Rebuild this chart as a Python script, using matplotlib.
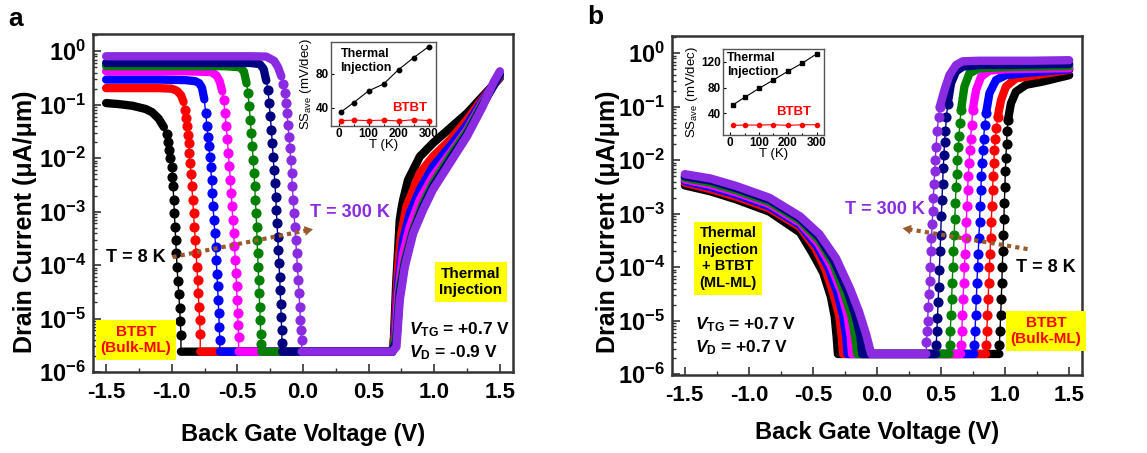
import numpy as np
import matplotlib
matplotlib.use('Agg')
import matplotlib.pyplot as plt
from matplotlib.ticker import MultipleLocator, LogLocator, NullFormatter, FormatStrFormatter

plt.rcParams['font.family'] = ['Liberation Sans', 'DejaVu Sans']
plt.rcParams['font.weight'] = 'bold'
plt.rcParams['axes.unicode_minus'] = False
plt.rcParams['mathtext.fontset'] = 'custom'
plt.rcParams['mathtext.rm'] = 'Liberation Sans:bold'
plt.rcParams['mathtext.it'] = 'Liberation Sans:italic:bold'
plt.rcParams['mathtext.bf'] = 'Liberation Sans:bold'

# temperatures 8 K ... 300 K, one curve each
temps = [8, 50, 100, 150, 200, 250, 300]
colors = ['#000000', '#ff0000', '#0000ff', '#ff00ff', '#008000', '#000080', '#8a2be2']

# ---- panel a (V_D = -0.9 V), log10 of drain current ----
# on-state plateau (band)
a_on_v = [
    [-1.5, -1.4, -1.3, -1.2, -1.15, -1.1, -1.06],
    [-1.5, -1.3, -1.1, -1.0, -0.96, -0.93, -0.91],
    [-1.5, -1.3, -1.1, -0.9, -0.82, -0.79, -0.77, -0.752],
    [-1.5, -1.3, -1.1, -0.9, -0.7, -0.66, -0.635, -0.615],
    [-1.5, -1.2, -0.9, -0.6, -0.48, -0.45, -0.43],
    [-1.5, -1.2, -0.9, -0.6, -0.4, -0.33, -0.3, -0.28],
    [-1.5, -1.2, -0.9, -0.6, -0.4, -0.28, -0.22, -0.19, -0.165],
]
a_on_log = [
    [-0.97, -0.99, -1.02, -1.08, -1.14, -1.26, -1.42],
    [-0.69, -0.69, -0.69, -0.7, -0.74, -0.82, -0.95],
    [-0.53, -0.53, -0.53, -0.54, -0.56, -0.6, -0.68, -0.9],
    [-0.375, -0.375, -0.375, -0.375, -0.39, -0.45, -0.56, -0.75],
    [-0.28, -0.28, -0.28, -0.28, -0.3, -0.38, -0.6],
    [-0.22, -0.22, -0.22, -0.22, -0.22, -0.24, -0.33, -0.55],
    [-0.094, -0.094, -0.094, -0.094, -0.094, -0.1, -0.18, -0.3, -0.47],
]
# steep BTBT turn-off (dots)
a_drop_v = [
    [-1.04, -1.03, -1.02, -1.01, -1.0, -0.995, -0.99, -0.985, -0.98, -0.975, -0.97, -0.965, -0.96, -0.953, -0.946, -0.94, -0.935, -0.93],
    [-0.9, -0.893, -0.885, -0.878, -0.872, -0.865, -0.859, -0.853, -0.847, -0.84, -0.834, -0.828, -0.821, -0.815, -0.808, -0.803, -0.798, -0.793, -0.788, -0.783],
    [-0.742, -0.732, -0.725, -0.717, -0.71, -0.704, -0.697, -0.691, -0.685, -0.679, -0.672, -0.666, -0.661, -0.656, -0.651, -0.646, -0.642, -0.638, -0.634],
    [-0.605, -0.595, -0.585, -0.577, -0.569, -0.562, -0.554, -0.548, -0.541, -0.535, -0.529, -0.522, -0.516, -0.511, -0.506, -0.502, -0.498, -0.494, -0.491],
    [-0.419, -0.41, -0.402, -0.394, -0.386, -0.38, -0.374, -0.368, -0.363, -0.358, -0.353, -0.35, -0.346, -0.342, -0.338, -0.334, -0.33, -0.326, -0.322, -0.318],
    [-0.267, -0.258, -0.249, -0.241, -0.234, -0.227, -0.221, -0.214, -0.208, -0.203, -0.198, -0.193, -0.188, -0.183, -0.178, -0.174, -0.17, -0.166, -0.163, -0.159],
    [-0.152, -0.14, -0.131, -0.122, -0.115, -0.107, -0.1, -0.094, -0.087, -0.081, -0.075, -0.069, -0.062, -0.056, -0.049, -0.043, -0.036, -0.03, -0.025, -0.02, -0.015, -0.01],
]
a_drop_log = [
    [-1.55, -1.7, -1.85, -2.0, -2.17, -2.35, -2.53, -2.78, -3.03, -3.28, -3.53, -3.78, -4.03, -4.3, -4.55, -4.8, -5.05, -5.3],
    [-1.09, -1.25, -1.4, -1.56, -1.72, -1.91, -2.1, -2.3, -2.53, -2.78, -3.03, -3.28, -3.53, -3.78, -4.03, -4.28, -4.53, -4.78, -5.03, -5.28],
    [-1.15, -1.4, -1.6, -1.78, -1.97, -2.16, -2.4, -2.66, -2.9, -3.16, -3.4, -3.66, -3.9, -4.16, -4.4, -4.66, -4.9, -5.16, -5.4],
    [-0.91, -1.15, -1.4, -1.65, -1.9, -2.15, -2.4, -2.65, -2.9, -3.15, -3.4, -3.65, -3.9, -4.15, -4.4, -4.65, -4.9, -5.12, -5.34],
    [-0.78, -1.03, -1.28, -1.53, -1.78, -2.03, -2.28, -2.53, -2.78, -3.03, -3.28, -3.53, -3.78, -4.03, -4.28, -4.53, -4.78, -5.03, -5.28, -5.47],
    [-0.72, -0.97, -1.22, -1.47, -1.72, -1.97, -2.22, -2.47, -2.72, -2.97, -3.22, -3.47, -3.72, -3.97, -4.22, -4.47, -4.72, -4.97, -5.22, -5.45],
    [-0.62, -0.78, -0.97, -1.16, -1.38, -1.6, -1.81, -2.03, -2.28, -2.53, -2.78, -3.03, -3.28, -3.53, -3.78, -4.03, -4.28, -4.53, -4.78, -5.03, -5.22, -5.4],
]
# off-state floor and thermal-injection branch (band)
a_off_v = [
    [-0.93, 0.68, 0.69, 0.71, 0.725, 0.737, 0.75, 0.763, 0.8, 0.89, 0.99, 1.12, 1.25, 1.37, 1.5],
    [-0.783, 0.68, 0.699, 0.712, 0.725, 0.74, 0.75, 0.788, 0.89, 0.99, 1.12, 1.25, 1.37, 1.5],
    [-0.634, 0.68, 0.699, 0.725, 0.763, 0.814, 0.89, 0.99, 1.12, 1.25, 1.37, 1.5],
    [-0.491, 0.68, 0.699, 0.725, 0.763, 0.814, 0.89, 0.99, 1.12, 1.25, 1.37, 1.5],
    [-0.318, 0.68, 0.712, 0.737, 0.776, 0.839, 0.915, 0.99, 1.12, 1.25, 1.37, 1.5],
    [-0.159, 0.68, 0.712, 0.737, 0.776, 0.839, 0.915, 0.99, 1.12, 1.25, 1.37, 1.5],
    [-0.01, 0.68, 0.712, 0.737, 0.776, 0.839, 0.915, 0.99, 1.12, 1.25, 1.37, 1.45, 1.5],
]
a_off_log = [
    [-5.62, -5.62, -5.53, -4.34, -3.7, -3.16, -2.95, -2.78, -2.41, -1.97, -1.72, -1.44, -1.16, -0.84, -0.5],
    [-5.62, -5.62, -5.28, -4.6, -4.03, -3.6, -3.4, -2.91, -2.28, -1.97, -1.66, -1.28, -0.88, -0.49],
    [-5.62, -5.62, -5.41, -4.34, -3.53, -3.03, -2.59, -2.16, -1.78, -1.375, -0.91, -0.47],
    [-5.62, -5.62, -5.53, -4.53, -3.78, -3.28, -2.78, -2.34, -1.91, -1.47, -0.94, -0.46],
    [-5.62, -5.62, -5.28, -4.41, -3.91, -3.34, -2.84, -2.47, -1.97, -1.5, -0.97, -0.45],
    [-5.62, -5.62, -5.41, -4.53, -3.97, -3.375, -2.91, -2.53, -2.03, -1.55, -1.0, -0.43],
    [-5.62, -5.62, -5.53, -4.66, -4.03, -3.41, -2.97, -2.59, -2.09, -1.59, -1.03, -0.59, -0.375],
]

# ---- panel b (V_D = +0.7 V) ----
# left branch + floor (band)
b_left_v = [
    [-1.5, -1.3, -1.1, -0.84, -0.6, -0.5, -0.42, -0.36, -0.33, -0.315, -0.305, 0.955],
    [-1.5, -1.3, -1.1, -0.84, -0.6, -0.48, -0.4, -0.34, -0.295, -0.275, -0.265, 0.852],
    [-1.5, -1.3, -1.1, -0.84, -0.6, -0.47, -0.38, -0.31, -0.265, -0.24, -0.23, 0.76],
    [-1.5, -1.3, -1.1, -0.84, -0.6, -0.46, -0.36, -0.28, -0.23, -0.205, -0.195, 0.657],
    [-1.5, -1.3, -1.1, -0.84, -0.6, -0.45, -0.34, -0.26, -0.2, -0.17, -0.155, 0.567],
    [-1.5, -1.3, -1.1, -0.84, -0.6, -0.45, -0.33, -0.23, -0.17, -0.13, -0.115, 0.462],
    [-1.5, -1.3, -1.1, -0.84, -0.6, -0.45, -0.32, -0.21, -0.14, -0.085, -0.045, 0.385],
]
b_left_log = [
    [-2.47, -2.58, -2.73, -2.96, -3.35, -3.75, -4.1, -4.55, -4.92, -5.3, -5.62, -5.62],
    [-2.42, -2.54, -2.68, -2.9, -3.25, -3.65, -4.05, -4.5, -4.9, -5.3, -5.62, -5.62],
    [-2.39, -2.5, -2.64, -2.86, -3.21, -3.6, -4.0, -4.47, -4.9, -5.3, -5.62, -5.62],
    [-2.36, -2.46, -2.6, -2.82, -3.17, -3.55, -3.97, -4.45, -4.9, -5.3, -5.62, -5.62],
    [-2.33, -2.42, -2.56, -2.78, -3.13, -3.5, -3.94, -4.45, -4.9, -5.3, -5.62, -5.62],
    [-2.3, -2.38, -2.52, -2.74, -3.09, -3.44, -3.9, -4.45, -4.88, -5.28, -5.62, -5.62],
    [-2.26, -2.34, -2.48, -2.7, -3.05, -3.38, -3.83, -4.4, -4.83, -5.25, -5.62, -5.62],
]
# steep BTBT turn-on (dots)
b_rise_v = [
    [0.955, 0.96, 0.965, 0.97, 0.974, 0.978, 0.982, 0.986, 0.99, 0.994, 0.998, 1.002, 1.006, 1.011, 1.016, 1.022],
    [0.852, 0.857, 0.862, 0.867, 0.872, 0.877, 0.882, 0.887, 0.892, 0.897, 0.902, 0.907, 0.912, 0.917, 0.923, 0.932, 0.942],
    [0.76, 0.765, 0.77, 0.775, 0.78, 0.785, 0.79, 0.795, 0.8, 0.805, 0.81, 0.815, 0.82, 0.826, 0.832, 0.84, 0.851],
    [0.657, 0.662, 0.667, 0.672, 0.677, 0.682, 0.687, 0.692, 0.697, 0.702, 0.707, 0.712, 0.718, 0.724, 0.73, 0.738, 0.747],
    [0.567, 0.572, 0.577, 0.582, 0.587, 0.592, 0.597, 0.602, 0.607, 0.612, 0.617, 0.622, 0.628, 0.634, 0.64, 0.647, 0.656],
    [0.462, 0.467, 0.472, 0.477, 0.482, 0.487, 0.492, 0.497, 0.502, 0.507, 0.512, 0.517, 0.522, 0.527, 0.534, 0.542, 0.552],
    [0.385, 0.39, 0.395, 0.4, 0.405, 0.41, 0.415, 0.42, 0.425, 0.43, 0.435, 0.44, 0.445, 0.45, 0.455, 0.46, 0.47, 0.48, 0.49],
]
b_rise_log = [
    [-5.45, -5.2, -4.9, -4.6, -4.3, -4.0, -3.7, -3.4, -3.1, -2.8, -2.5, -2.2, -1.95, -1.69, -1.45, -1.25],
    [-5.45, -5.2, -4.9, -4.6, -4.3, -4.0, -3.75, -3.45, -3.15, -2.85, -2.55, -2.3, -2.05, -1.8, -1.6, -1.4, -1.19],
    [-5.45, -5.2, -4.9, -4.6, -4.3, -4.0, -3.75, -3.45, -3.15, -2.85, -2.55, -2.3, -2.05, -1.8, -1.6, -1.35, -1.125],
    [-5.45, -5.2, -4.9, -4.6, -4.3, -4.0, -3.75, -3.45, -3.15, -2.85, -2.55, -2.3, -2.05, -1.8, -1.6, -1.35, -1.06],
    [-5.45, -5.2, -4.9, -4.6, -4.3, -4.0, -3.7, -3.4, -3.1, -2.8, -2.5, -2.25, -2.0, -1.75, -1.55, -1.3, -1.06],
    [-5.45, -5.2, -4.95, -4.65, -4.375, -4.05, -3.7, -3.4, -3.05, -2.75, -2.45, -2.15, -1.9, -1.65, -1.45, -1.2, -0.94],
    [-5.4, -5.2, -5.0, -4.75, -4.5, -4.25, -4.0, -3.7, -3.45, -3.2, -2.95, -2.7, -2.45, -2.2, -2.0, -1.75, -1.45, -1.2, -1.0],
]
# on-state plateau (band)
b_top_v = [
    [1.022, 1.045, 1.084, 1.162, 1.292, 1.5],
    [0.942, 0.968, 1.006, 1.084, 1.24, 1.5],
    [0.851, 0.877, 0.929, 1.006, 1.2, 1.5],
    [0.747, 0.773, 0.812, 0.877, 1.0, 1.2, 1.5],
    [0.656, 0.682, 0.721, 0.8, 1.0, 1.2, 1.5],
    [0.552, 0.578, 0.617, 0.669, 0.8, 1.0, 1.2, 1.5],
    [0.49, 0.526, 0.565, 0.617, 0.67, 0.8, 1.0, 1.2, 1.5],
]
b_top_log = [
    [-1.25, -0.94, -0.72, -0.59, -0.53, -0.41],
    [-1.19, -0.875, -0.625, -0.47, -0.41, -0.31],
    [-1.125, -0.75, -0.5, -0.41, -0.36, -0.3],
    [-1.06, -0.69, -0.44, -0.325, -0.3, -0.29, -0.28],
    [-1.06, -0.625, -0.375, -0.28, -0.26, -0.25, -0.24],
    [-0.94, -0.56, -0.34, -0.25, -0.22, -0.22, -0.21, -0.2],
    [-1.0, -0.69, -0.41, -0.22, -0.15, -0.14, -0.14, -0.14, -0.13],
]

# ---- insets: average subthreshold swing vs temperature ----
ins_t = [8, 50, 100, 150, 200, 250, 300]
ss_thermal_a = [35, 46, 60, 68, 85, 99, 112]
ss_btbt_a = [25, 25.5, 25, 25.5, 24.5, 26, 25]
ss_thermal_b = [52.5, 64.6, 78.7, 91.8, 105.4, 118, 132.6]
ss_btbt_b = [21, 21.5, 21.5, 22, 21, 22, 22]

W, H = 1147, 453
fig = plt.figure(figsize=(W / 100, H / 100), dpi=100)


def px(x, y):
    return x / W, 1 - y / H


def draw_curve(ax, v1, l1, v2, l2, v3, l3, c):
    v = v1 + v2 + v3
    cur = 10 ** np.array(l1 + l2 + l3)
    ax.plot(v, cur, color=c, lw=1.0)
    ax.plot(v1, 10 ** np.array(l1), color=c, lw=6, solid_capstyle='round', solid_joinstyle='round')
    ax.plot(v3, 10 ** np.array(l3), color=c, lw=6, solid_capstyle='round', solid_joinstyle='round')
    ax.plot(v2, 10 ** np.array(l2), 'o', color=c, ms=6.3, mec=c)


def style_main(ax, ybot):
    ax.set_yscale('log')
    ax.set_xlim(-1.6, 1.6)
    ax.set_ylim(ybot, 2.1)
    ax.xaxis.set_major_locator(MultipleLocator(0.5))
    ax.xaxis.set_minor_locator(MultipleLocator(0.25))
    ax.xaxis.set_major_formatter(FormatStrFormatter('%.1f'))
    ax.yaxis.set_major_locator(LogLocator(base=10, numticks=20))
    ax.yaxis.set_minor_locator(LogLocator(base=10, subs=np.arange(2, 10), numticks=20))
    ax.yaxis.set_minor_formatter(NullFormatter())
    ax.tick_params(which='both', direction='in', top=False, right=False, color='#333333')
    ax.tick_params(which='major', length=6, width=1.2, pad=7)
    ax.tick_params(axis='x', which='major', labelsize=16)
    ax.tick_params(axis='y', which='major', labelsize=17, pad=5)
    ax.tick_params(which='minor', length=3, width=1)
    for s in ax.spines.values():
        s.set_linewidth(1.8)
        s.set_color('#333333')


def style_inset(ax, yl, yt):
    ax.set_xlim(-25, 325)
    ax.set_ylim(*yl)
    ax.set_xticks([0, 100, 200, 300])
    ax.xaxis.set_minor_locator(MultipleLocator(50))
    ax.set_yticks(yt)
    ax.tick_params(which='both', direction='in', labelsize=8.5, pad=1.5, width=0.8)
    ax.tick_params(which='major', length=2.5)
    ax.tick_params(which='minor', length=1.5)
    ax.set_xlabel('T (K)', fontsize=9.5, labelpad=-1)
    ax.set_ylabel(r'SS$_{\mathdefault{ave}}$ (mV/dec)', fontsize=9.5, labelpad=1)
    for s in ax.spines.values():
        s.set_linewidth(1.0)
        s.set_color('#555555')


ax_a = fig.add_axes([93 / W, 1 - 372 / H, 420 / W, 338 / H])
ax_b = fig.add_axes([672 / W, 1 - 375 / H, 410 / W, 339 / H])

for k in range(len(temps)):
    draw_curve(ax_a, a_on_v[k], a_on_log[k], a_drop_v[k], a_drop_log[k], a_off_v[k], a_off_log[k], colors[k])
    draw_curve(ax_b, b_left_v[k], b_left_log[k], b_rise_v[k], b_rise_log[k], b_top_v[k], b_top_log[k], colors[k])

style_main(ax_a, 1e-6)
style_main(ax_b, 0.97e-6)

brown = '#9a5b2c'
purple = colors[-1]
yellow = '#ffff00'

# panel a annotations
ax_a.plot([-0.994, 0.06], [10 ** -3.85, 10 ** -3.335], ls=(0, (1, 1)), lw=3, color=brown)
ax_a.annotate('', xy=(0.076, 10 ** -3.33), xytext=(-0.994, 10 ** -3.85),
              arrowprops=dict(arrowstyle='-|>,head_length=0.6,head_width=0.35', color=brown, lw=0,
                              shrinkA=0, shrinkB=0))
fig.text(*px(350, 213), 'T = 300 K', color=purple, fontsize=13, ha='center', va='center')
fig.text(*px(136, 258), 'T = 8 K', color='black', fontsize=13, ha='center', va='center')
fig.text(*px(136, 340), 'BTBT\n(Bulk-ML)', color='#ff0000', fontsize=11, ha='center', va='center',
         linespacing=1.25, bbox=dict(boxstyle='square,pad=0.3', fc=yellow, ec='none'))
fig.text(*px(471, 282), 'Thermal\nInjection', color='black', fontsize=11, ha='center', va='center',
         linespacing=1.25, bbox=dict(boxstyle='square,pad=0.3', fc=yellow, ec='none'))
fig.text(*px(409, 330), r'$V_{\mathdefault{TG}}$ = +0.7 V', fontsize=12.5, ha='left', va='center')
fig.text(*px(409, 353), r'$V_{\mathdefault{D}}$ = -0.9 V', fontsize=12.5, ha='left', va='center')

# panel b annotations
ax_b.plot([1.175, 0.22], [10 ** -3.66, 10 ** -3.278], ls=(0, (1, 1)), lw=3, color=brown)
ax_b.annotate('', xy=(0.2, 10 ** -3.27), xytext=(1.175, 10 ** -3.66),
              arrowprops=dict(arrowstyle='-|>,head_length=0.6,head_width=0.35', color=brown, lw=0,
                              shrinkA=0, shrinkB=0))
fig.text(*px(885, 210), 'T = 300 K', color=purple, fontsize=13, ha='center', va='center')
fig.text(*px(1046, 268), 'T = 8 K', color='black', fontsize=13, ha='center', va='center')
fig.text(*px(728, 258), 'Thermal\nInjection\n+ BTBT\n(ML-ML)', color='black', fontsize=10.5,
         ha='center', va='center', linespacing=1.25,
         bbox=dict(boxstyle='square,pad=0.3', fc=yellow, ec='none'))
fig.text(*px(1046, 331), 'BTBT\n(Bulk-ML)', color='#ff0000', fontsize=11, ha='center', va='center',
         linespacing=1.25, bbox=dict(boxstyle='square,pad=0.3', fc=yellow, ec='none'))
fig.text(*px(695, 325), r'$V_{\mathdefault{TG}}$ = +0.7 V', fontsize=12.5, ha='left', va='center')
fig.text(*px(695, 348), r'$V_{\mathdefault{D}}$ = +0.7 V', fontsize=12.5, ha='left', va='center')

# axis labels and panel letters
for (xc, yc) in [(25, 222), (608, 222)]:
    fig.text(*px(xc, yc), 'Drain Current (\u03bcA/\u03bcm)', fontsize=18, rotation=90,
             ha='center', va='center')
for (xc, yc) in [(303, 434), (877, 433)]:
    fig.text(*px(xc, yc), 'Back Gate Voltage (V)', fontsize=17, ha='center', va='center')
fig.text(*px(16, 19), 'a', fontsize=19, ha='center', va='center')
fig.text(*px(595, 17), 'b', fontsize=19, ha='center', va='center')

# insets
ins_a = fig.add_axes([331 / W, 1 - 126 / H, 105 / W, 84 / H])
ins_a.plot(ins_t, ss_thermal_a, '-o', color='black', lw=0.8, ms=3.2)
ins_a.plot(ins_t, ss_btbt_a, '-o', color='#ff0000', lw=0.8, ms=3.2)
style_inset(ins_a, (18.6, 117.6), [40, 80])
ins_a.text(0.09, 0.93, 'Thermal\nInjection', transform=ins_a.transAxes, fontsize=9,
           ha='left', va='top', linespacing=1.25)
ins_a.text(0.58, 0.22, 'BTBT', transform=ins_a.transAxes, fontsize=9.5, color='#ff0000',
           ha='left', va='center')

ins_b = fig.add_axes([723 / W, 1 - 135 / H, 101 / W, 86 / H])
ins_b.plot(ins_t, ss_thermal_b, '-s', color='black', lw=0.8, ms=3)
ins_b.plot(ins_t, ss_btbt_b, '-o', color='#ff0000', lw=0.8, ms=3)
style_inset(ins_b, (6, 140), [40, 80, 120])
ins_b.text(0.04, 0.97, 'Thermal\nInjection', transform=ins_b.transAxes, fontsize=9,
           ha='left', va='top', linespacing=1.25)
ins_b.text(0.53, 0.27, 'BTBT', transform=ins_b.transAxes, fontsize=9.5, color='#ff0000',
           ha='left', va='center')

fig.savefig('out.png', dpi=100)
